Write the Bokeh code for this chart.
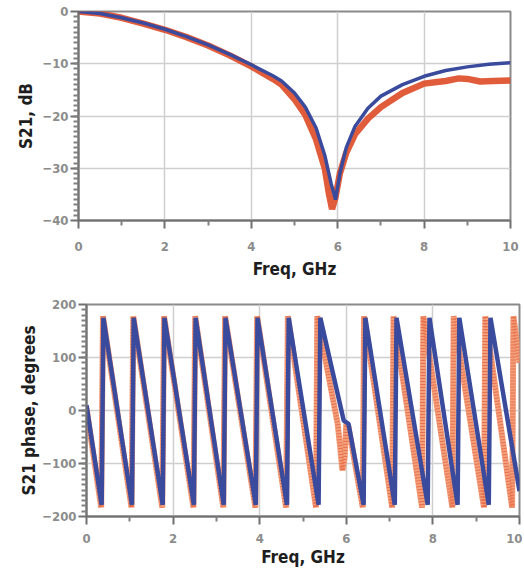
from bokeh.plotting import figure
from bokeh.layouts import column
from bokeh.models import FixedTicker, Range1d
from bokeh.embed import file_html
from bokeh.resources import INLINE

# ---- S21 magnitude (dB) ----
mag_freq_sim = [0, 0.5, 1.0, 1.5, 2.0, 2.5, 3.0, 3.5, 4.0, 4.5, 4.7, 5.0, 5.25, 5.5, 5.7, 5.85, 5.95,
                6.05, 6.2, 6.4, 6.7, 7.0, 7.5, 8.0, 8.5, 9.0, 9.5, 10.0]
mag_db_sim = [0, -0.4, -1.2, -2.2, -3.4, -4.8, -6.4, -8.2, -10.2, -12.3, -13.3, -15.6, -18.3, -22.3, -27.5, -33.0, -36.0,
              -31.0, -26.0, -22.0, -18.5, -16.2, -14.0, -12.4, -11.3, -10.6, -10.1, -9.8]
mag_freq_meas = [0, 0.5, 1.0, 1.5, 2.0, 2.5, 3.0, 3.5, 4.0, 4.5, 4.7, 5.0, 5.25, 5.5, 5.7, 5.8, 5.87, 5.95,
                 6.05, 6.2, 6.4, 6.7, 7.0, 7.5, 8.0, 8.3, 8.5, 8.8, 9.0, 9.3, 9.6, 10.0]
mag_db_meas = [0, -0.4, -1.2, -2.3, -3.5, -4.9, -6.5, -8.4, -10.5, -12.9, -14.0, -16.8, -19.8, -24.5, -30.0, -35.0, -37.8, -35.5,
               -31.0, -27.0, -23.5, -20.5, -18.3, -15.6, -13.8, -13.5, -13.3, -12.8, -12.9, -13.4, -13.3, -13.2]

# ---- S21 phase (degrees) ----
ph_freq_sim = [0, 0.35, 0.39, 1.05, 1.09, 1.76, 1.80, 2.48, 2.52, 3.17, 3.21, 3.91, 3.95, 4.63, 4.67,
               5.36, 5.40, 5.94, 6.05, 6.40, 6.44, 7.12, 7.16, 7.88, 7.92, 8.57, 8.61, 9.29, 9.33, 10.0]
ph_deg_sim = [10, -178, 175, -178, 175, -178, 175, -178, 175, -178, 175, -178, 175, -178, 175,
              -178, 175, -19, -25, -178, 175, -178, 175, -178, 175, -178, 175, -178, 175, -152]
ph_freq_meas = [0, 0.34, 0.38, 1.04, 1.08, 1.75, 1.79, 2.47, 2.51, 3.16, 3.20, 3.90, 3.94, 4.61, 4.65,
                5.30, 5.33, 5.80, 5.86, 5.91, 5.96, 6.00, 6.05, 6.38, 6.41, 7.06, 7.09, 7.75, 7.78,
                8.45, 8.48, 9.18, 9.21, 9.83, 9.86, 10.0]
ph_deg_meas = [5, -183, 178, -183, 178, -183, 178, -183, 178, -183, 178, -183, 178, -183, 178,
               -183, 178, -25, -70, -113, -90, -25, -30, -183, 178, -183, 178, -183, 178,
               -183, 178, -183, 178, -183, 178, 90]

x_ticks = [0, 2, 4, 6, 8, 10]
x_minor = [1, 3, 5, 7, 9]
mag_ticks = [-40, -30, -20, -10, 0]
ph_ticks = [-200, -100, 0, 100, 200]

FONT = "DejaVu Sans Condensed"
BLUE = "#3a4a9c"
RED = "#de4a26"
RED_LIGHT = "#f3a07e"


def style(p, yticks, yminor, x_tick_standoff, x_label_standoff, y_tick_standoff, y_label_standoff):
    p.xaxis.ticker = FixedTicker(ticks=x_ticks, minor_ticks=x_minor)
    p.yaxis.ticker = FixedTicker(ticks=yticks, minor_ticks=yminor)
    for ax in (p.xaxis, p.yaxis):
        ax.axis_line_color = "#707070"
        ax.axis_line_width = 2
        ax.major_tick_line_color = "#707070"
        ax.major_tick_line_width = 2
        ax.minor_tick_line_color = "#808080"
        ax.minor_tick_line_width = 2
        ax.major_tick_out = 8
        ax.major_tick_in = 0
        ax.minor_tick_out = 5
        ax.minor_tick_in = 0
        ax.major_label_text_font = FONT
        ax.major_label_text_font_size = "13px"
        ax.major_label_text_font_style = "bold"
        ax.major_label_text_color = "#8c8c8c"
        ax.axis_label_text_font = FONT
        ax.axis_label_text_font_size = "17px"
        ax.axis_label_text_font_style = "bold"
        ax.axis_label_text_color = "#1e1e1e"
    p.xaxis.major_label_standoff = x_tick_standoff
    p.xaxis.axis_label_standoff = x_label_standoff
    p.yaxis.major_label_standoff = y_tick_standoff
    p.yaxis.axis_label_standoff = y_label_standoff
    p.xgrid.grid_line_color = "#cfcfcf"
    p.ygrid.grid_line_color = "#cfcfcf"
    p.xgrid.grid_line_width = 1.5
    p.ygrid.grid_line_width = 1.5
    p.outline_line_color = "#8a8a8a"
    p.outline_line_width = 2
    p.background_fill_color = "white"
    p.border_fill_color = "white"


# ---- top: magnitude ----
p1 = figure(width=522, height=288, x_range=Range1d(0, 10), y_range=Range1d(-40, 0),
            output_backend="svg", toolbar_location=None, frame_align=False,
            min_border_left=78, min_border_right=12, min_border_top=11, min_border_bottom=68,
            x_axis_label="Freq, GHz", y_axis_label="S21, dB")
style(p1, mag_ticks, list(range(-39, 0)), 13, 5, 2, 3)
p1.line(mag_freq_meas, mag_db_meas, line_color=RED, line_width=6.5, line_alpha=0.9)
p1.line(mag_freq_sim, mag_db_sim, line_color=BLUE, line_width=3.5)

# ---- bottom: phase ----
p2 = figure(width=522, height=286, x_range=Range1d(0, 10), y_range=Range1d(-200, 200),
            output_backend="svg", toolbar_location=None, frame_align=False,
            min_border_left=86, min_border_right=3, min_border_top=16, min_border_bottom=58,
            x_axis_label="Freq, GHz", y_axis_label="S21 phase, degrees")
style(p2, ph_ticks, list(range(-190, 200, 10)), 9, 1, 2, 0)
p2.line(ph_freq_meas, ph_deg_meas, line_color=RED_LIGHT, line_width=6)
p2.line(ph_freq_meas, ph_deg_meas, line_color="#e8704a", line_width=5, line_dash="1 2")
p2.line(ph_freq_sim, ph_deg_sim, line_color=BLUE, line_width=4.5)

layout = column(p1, p2, spacing=0)
open("out.html", "w").write(file_html(layout, INLINE))
